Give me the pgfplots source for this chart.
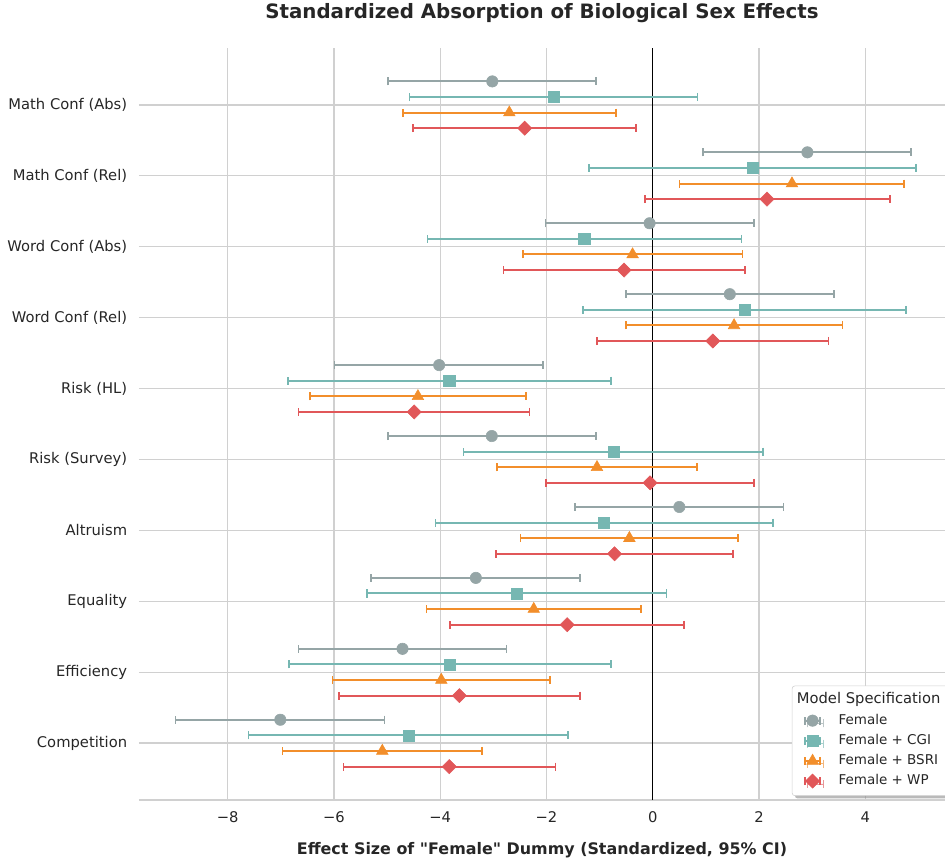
\documentclass[border=0pt]{standalone}
\usepackage{pgfplots}
\pgfplotsset{compat=1.18}
\usepackage{pgfplotstable}
\usepackage{fontspec}
\setmainfont{DejaVu Sans}[Ligatures=TeXOff]
\usetikzlibrary{shadows}
\definecolor{femc}{RGB}{149,165,166}
\definecolor{cgic}{RGB}{118,183,178}
\definecolor{bsric}{RGB}{242,142,43}
\definecolor{wpc}{RGB}{225,87,89}
\definecolor{gridc}{RGB}{208,208,208}
\pgfplotstableread{
c x lo hi
9 -3.02 -4.98 -1.07
8 2.91 0.95 4.86
7 -0.06 -2.02 1.90
6 1.45 -0.51 3.41
5 -4.02 -5.99 -2.06
4 -3.03 -4.98 -1.07
3 0.50 -1.46 2.46
2 -3.33 -5.30 -1.37
1 -4.71 -6.67 -2.75
0 -7.01 -8.98 -5.05
}\femtab
\pgfplotstableread{
c x lo hi
9 -1.87 -4.58 0.84
8 1.88 -1.20 4.96
7 -1.29 -4.24 1.67
6 1.73 -1.31 4.76
5 -3.83 -6.87 -0.79
4 -0.74 -3.56 2.08
3 -0.92 -4.09 2.26
2 -2.56 -5.38 0.26
1 -3.82 -6.85 -0.78
0 -4.60 -7.61 -1.59
}\cgitab
\pgfplotstableread{
c x lo hi
9 -2.70 -4.70 -0.69
8 2.62 0.50 4.73
7 -0.38 -2.44 1.69
6 1.53 -0.51 3.57
5 -4.42 -6.45 -2.39
4 -1.05 -2.93 0.83
3 -0.44 -2.49 1.61
2 -2.24 -4.26 -0.22
1 -3.98 -6.03 -1.93
0 -5.09 -6.97 -3.21
}\bsritab
\pgfplotstableread{
c x lo hi
9 -2.41 -4.51 -0.31
8 2.15 -0.15 4.46
7 -0.54 -2.81 1.73
6 1.13 -1.05 3.31
5 -4.49 -6.67 -2.32
4 -0.05 -2.01 1.91
3 -0.72 -2.95 1.51
2 -1.61 -3.82 0.59
1 -3.64 -5.90 -1.37
0 -3.83 -5.82 -1.83
}\wptab
\pgfplotsset{
  ciplot/.style={
    only marks, color=#1, mark options={fill=#1, draw=#1},
    error bars/.cd, x dir=both, x explicit,
      error bar style={line width=1.44pt, #1},
      error mark=-,
      error mark options={rotate=90, line width=1.2pt, mark size=2.9pt, #1},
    /pgfplots/.cd,
    legend image code/.code={
      \draw[mark=none, line width=1.44pt, #1] (0pt,0pt) -- (11pt,0pt);
      \draw[mark=none, line width=1.2pt, #1] (0pt,-2.9pt) -- (0pt,2.9pt) (11pt,-2.9pt) -- (11pt,2.9pt);
      \draw[mark repeat=2, mark phase=2] plot coordinates {(0pt,0pt) (5.5pt,0pt) (11pt,0pt)};
    },
  },
}
\begin{document}
\begin{tikzpicture}
\begin{axis}[
  name=ax, scale only axis, width=580pt, height=541pt,
  xmin=-9.67, xmax=5.5, ymin=-0.8, ymax=9.8,
  xtick={-8,-6,-4,-2,0,2,4},
  xticklabels={−8,−6,−4,−2,0,2,4},
  ytick={0,1,2,3,4,5,6,7,8,9},
  yticklabels={Competition,Efficiency,Equality,Altruism,Risk (Survey),Risk (HL),Word Conf (Rel),Word Conf (Abs),Math Conf (Rel),Math Conf (Abs)},
  grid=major, major grid style={color=gridc, line width=1pt},
  axis x line*=bottom, axis y line*=left,
  x axis line style={-, draw=gridc, line width=1pt},
  y axis line style={draw=none},
  major tick length=0pt, tick style={draw=none},
  ticklabel style={font=\fontsize{10.6}{12.7}\selectfont, text=black!85},
  yticklabel style={xshift=-5pt},
  xticklabel style={yshift=-5pt},
  title={Standardized Absorption of Biological Sex Effects},
  title style={font=\bfseries\fontsize{14.25}{16}\selectfont, text=black!85, at={(0.5,1)}, anchor=base, yshift=15pt},
  xlabel={Effect Size of "Female" Dummy (Standardized, 95\% CI)},
  xlabel style={font=\bfseries\fontsize{11.45}{14}\selectfont, text=black!85, at={(0.5,0)}, anchor=base, yshift=-39pt},
  legend style={at={(0.81,0.152)}, anchor=north west, font=\fontsize{9.7}{11.5}\selectfont,
    draw=gridc, fill=white, rounded corners=2pt, text=black!85,
    drop shadow={shadow xshift=2pt, shadow yshift=-2pt, fill=black!45, opacity=0.6},
    inner xsep=8.5pt, inner ysep=4pt,
    nodes={inner sep=1.5pt, text height=7.5pt, text depth=2.5pt},
    row sep=1.5pt,
    /tikz/every odd column/.append style={column sep=11pt}},
  legend cell align=left,
]
\addplot[black, line width=0.9pt, forget plot] coordinates {(0,-0.8) (0,9.8)};
\addlegendimage{empty legend}
\addlegendentry{\hspace*{-30pt}\fontsize{10.6}{12}\selectfont Model Specification}
\addplot[ciplot=femc, mark=*, mark size=4.1pt] table[x=x, y expr=\thisrow{c}+0.33, x error minus expr=\thisrow{x}-\thisrow{lo}, x error plus expr=\thisrow{hi}-\thisrow{x}] {\femtab};
\addlegendentry{Female}
\addplot[ciplot=cgic, mark=square*, mark size=4pt] table[x=x, y expr=\thisrow{c}+0.11, x error minus expr=\thisrow{x}-\thisrow{lo}, x error plus expr=\thisrow{hi}-\thisrow{x}] {\cgitab};
\addlegendentry{Female + CGI}
\addplot[ciplot=bsric, mark=triangle*, mark size=4.8pt] table[x=x, y expr=\thisrow{c}-0.11, x error minus expr=\thisrow{x}-\thisrow{lo}, x error plus expr=\thisrow{hi}-\thisrow{x}] {\bsritab};
\addlegendentry{Female + BSRI}
\addplot[ciplot=wpc, mark=square*, mark size=3.6pt, mark options={rotate=45}] table[x=x, y expr=\thisrow{c}-0.33, x error minus expr=\thisrow{x}-\thisrow{lo}, x error plus expr=\thisrow{hi}-\thisrow{x}] {\wptab};
\addlegendentry{Female + WP}
\end{axis}
\pgfresetboundingbox
\path ([xshift=-100pt, yshift=-46.8pt]ax.south west) rectangle ([yshift=34.6pt]ax.north east);
\end{tikzpicture}
\end{document}
